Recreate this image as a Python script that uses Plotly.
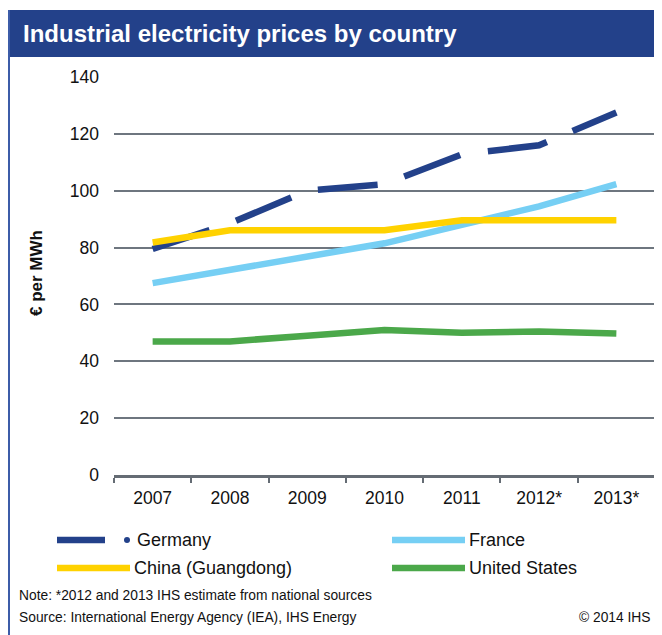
import plotly.graph_objects as go

# ---- data ----
years = ["2007", "2008", "2009", "2010", "2011", "2012*", "2013*"]
germany = [79.5, 88.5, 100.0, 102.3, 112.8, 116.0, 127.5]
france = [67.5, 72.0, 76.5, 81.5, 88.0, 94.5, 102.3]
china = [81.8, 86.1, 86.1, 86.1, 89.6, 89.6, 89.6]
usa = [47.0, 47.0, 49.0, 51.0, 50.0, 50.5, 49.8]
series_names = ["Germany", "France", "China (Guangdong)", "United States"]
y_ticks = [0, 20, 40, 60, 80, 100, 120, 140]

title_text = "Industrial electricity prices by country"
y_title = "€ per MWh"
note_text = "Note: *2012 and 2013 IHS estimate from national sources"
source_text = "Source: International Energy Agency (IEA), IHS Energy"
copyright_text = "© 2014 IHS"

# ---- style ----
OFF = 8  # page body margin
W, H = 662 - OFF, 635 - OFF
L, R, T, B = 114 - OFF, 655 - OFF, 77 - OFF, 475 - OFF
colors = ["#23418A", "#76CFF4", "#FFD200", "#4BA84A"]
dashes = ["60px,28px", "solid", "solid", "solid"]
FONT = "Liberation Sans, Arial, sans-serif"
LW = 6.5


def px(x):
    # x given in reference-page pixels
    return (x - OFF - L) / (R - L)


def py(y):
    return (B - (y - OFF)) / (B - T)


fig = go.Figure()
for name, vals, col, dash in zip(series_names, [germany, france, china, usa], colors, dashes):
    fig.add_trace(go.Scatter(
        x=years, y=vals, mode="lines", name=name,
        line=dict(color=col, width=LW, dash=dash),
        showlegend=False,
    ))

shapes = []
annotations = []

# title bar
shapes.append(dict(type="rect", xref="paper", yref="paper",
                   x0=px(8), x1=px(664), y0=py(57), y1=py(10),
                   fillcolor="#23418A", line=dict(width=0), layer="below"))
# left border line
shapes.append(dict(type="line", xref="paper", yref="paper",
                   x0=px(9), x1=px(9), y0=py(10), y1=py(640),
                   line=dict(color="#3C5CA8", width=2)))
annotations.append(dict(xref="paper", yref="paper", x=px(21), y=py(34),
                        xanchor="left", yanchor="middle", showarrow=False,
                        text="<b>" + title_text + "</b>",
                        font=dict(family=FONT, size=24, color="white")))
# y title
annotations.append(dict(xref="paper", yref="paper", x=px(36), y=py(273),
                        xanchor="center", yanchor="middle", showarrow=False,
                        textangle=-90, text="<b>" + y_title + "</b>",
                        font=dict(family=FONT, size=17, color="#111111")))

# legend (manual)
leg_pos = [(57, 540), (392, 540), (57, 568), (392, 568)]
for (lx, ly), name, col, dash in zip(leg_pos, series_names, colors, dashes):
    if dash == "solid":
        shapes.append(dict(type="line", xref="paper", yref="paper",
                           x0=px(lx), x1=px(lx + 73), y0=py(ly), y1=py(ly),
                           line=dict(color=col, width=LW)))
        tx = lx + 75
    else:
        shapes.append(dict(type="line", xref="paper", yref="paper",
                           x0=px(lx), x1=px(lx + 48), y0=py(ly), y1=py(ly),
                           line=dict(color=col, width=LW)))
        shapes.append(dict(type="circle", xref="paper", yref="paper",
                           x0=px(lx + 67), x1=px(lx + 73), y0=py(ly + 3), y1=py(ly - 3),
                           fillcolor=col, line=dict(width=0)))
        tx = lx + 78
    annotations.append(dict(xref="paper", yref="paper", x=px(tx), y=py(ly),
                            xanchor="left", yanchor="middle", showarrow=False,
                            text=name, font=dict(family=FONT, size=18, color="#111111")))

# footer
annotations.append(dict(xref="paper", yref="paper", x=px(17), y=py(595),
                        xanchor="left", yanchor="middle", showarrow=False,
                        text=note_text, font=dict(family=FONT, size=13.8, color="#111111")))
annotations.append(dict(xref="paper", yref="paper", x=px(17), y=py(617),
                        xanchor="left", yanchor="middle", showarrow=False,
                        text=source_text, font=dict(family=FONT, size=13.8, color="#111111")))
annotations.append(dict(xref="paper", yref="paper", x=px(653), y=py(617),
                        xanchor="right", yanchor="middle", showarrow=False,
                        text=copyright_text, font=dict(family=FONT, size=13.8, color="#111111")))

fig.update_layout(
    width=W, height=H,
    margin=dict(l=L, r=W - R, t=T, b=H - B, pad=0),
    paper_bgcolor="white", plot_bgcolor="white",
    font=dict(family=FONT, size=18, color="#111111"),
    shapes=shapes, annotations=annotations,
    showlegend=False,
)
fig.update_xaxes(
    type="category", range=[-0.5, 6.5],
    showline=True, linecolor="#656C74", linewidth=2.5,
    ticks="outside", tickson="boundaries", ticklen=5, tickcolor="#656C74", tickwidth=1.5,
    showgrid=False, zeroline=False,
    ticklabelstandoff=5,
    tickfont=dict(family=FONT, size=17.5, color="#111111"),
)
fig.update_yaxes(
    range=[0, 140], tickvals=y_ticks,
    showgrid=True, gridcolor="#6E767F", gridwidth=1.5,
    zeroline=False, showline=False, ticks="",
    ticklabelstandoff=14,
    tickfont=dict(family=FONT, size=17.5, color="#111111"),
)

fig.write_html("out.html")
